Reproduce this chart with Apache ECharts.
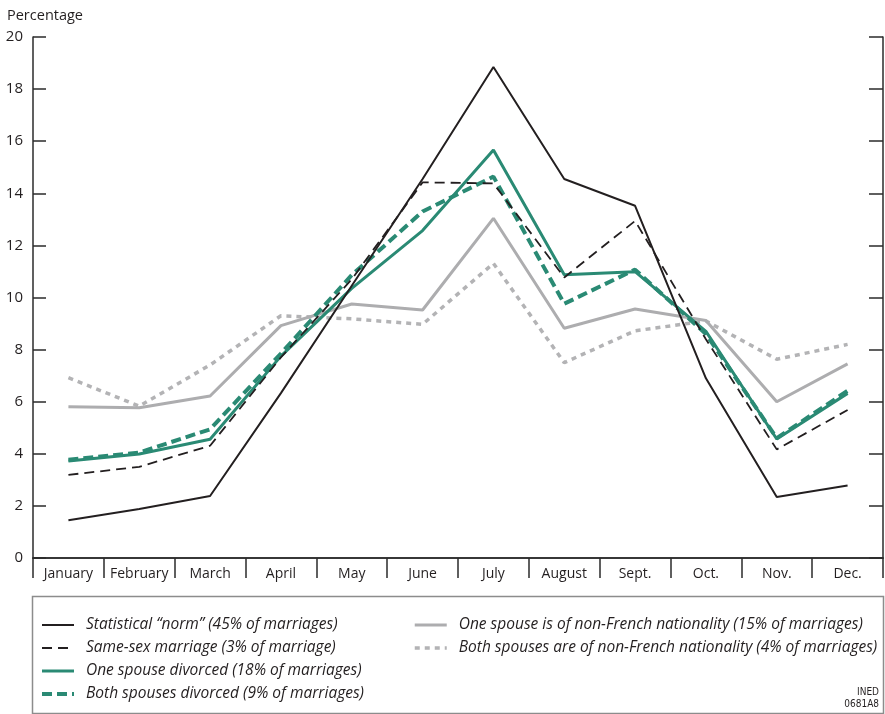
<!DOCTYPE html>
<html><head><meta charset="utf-8">
<script src="https://cdn.jsdelivr.net/npm/echarts@6/dist/echarts.min.js"></script>
<style>html,body{margin:0;padding:0;background:#fff}#c{width:885px;height:714px}</style>
</head><body><div id="c"></div>
<script>
var months = ['January','February','March','April','May','June','July','August','Sept.','Oct.','Nov.','Dec.'];
var yTicks = [0, 20, 2];
var normVals = [1.45, 1.88, 2.38, 6.33, 10.45, 14.55, 18.85, 14.55, 13.52, 6.9, 2.34, 2.78];
var sameSexVals = [3.19, 3.5, 4.31, 7.7, 10.7, 14.42, 14.38, 10.77, 12.94, 8.4, 4.17, 5.68];
var oneDivVals = [3.72, 3.99, 4.56, 7.75, 10.35, 12.57, 15.66, 10.87, 10.99, 8.7, 4.57, 6.32];
var bothDivVals = [3.77, 4.05, 4.94, 7.85, 10.86, 13.3, 14.64, 9.76, 11.07, 8.6, 4.6, 6.42];
var oneNFVals = [5.81, 5.77, 6.22, 8.92, 9.75, 9.52, 13.04, 8.82, 9.56, 9.12, 6.0, 7.45];
var bothNFVals = [6.92, 5.83, 7.41, 9.3, 9.18, 8.97, 11.31, 7.5, 8.72, 9.1, 7.63, 8.2];
var names = ['Statistical \u201cnorm\u201d (45% of marriages)','Same-sex marriage (3% of marriage)','One spouse divorced (18% of marriages)','Both spouses divorced (9% of marriages)','One spouse is of non-French nationality (15% of marriages)','Both spouses are of non-French nationality (4% of marriages)'];

var FONT = '"Open Sans", sans-serif';
var AX = '#2b2b2b';
var TEAL = '#2a8a74';
var styles = [
  {color:'#231f20', width:2, type:'solid'},
  {color:'#231f20', width:1.8, type:[10,6]},
  {color:TEAL, width:3, type:'solid'},
  {color:TEAL, width:4, type:[10,5]},
  {color:'#adadaf', width:3, type:'solid'},
  {color:'#b3b3b5', width:3.5, type:[5,5]}
];
var chart = echarts.init(document.getElementById('c'), null, {renderer:'canvas'});
function ser(i, data, z){
  var s = styles[i];
  return {name:names[i], type:'line', data:data, symbol:'none', showSymbol:false, z:z,
    lineStyle:{color:s.color, width:s.width, type:s.type}, itemStyle:{color:s.color}, emphasis:{disabled:true}};
}
function legData(i){
  var s = styles[i];
  return {name:names[i], lineStyle:{color:s.color, width:s.width, type:s.type}, itemStyle:{opacity:0, borderWidth:0}};
}
var legTxt = {fontFamily:FONT, fontStyle:'italic', fontSize:15.5, color:'#231f20', lineHeight:16, padding:[0,0,0,7]};
var legCommon = {orient:'vertical', top:617, height:96, padding:0, itemWidth:32, itemHeight:14, itemGap:7,
   textStyle:legTxt, selectedMode:false, itemStyle:{opacity:0, borderWidth:0}};
chart.setOption({
  animation:false,
  title:{text:'Percentage', left:2, top:3, textStyle:{fontFamily:FONT, fontWeight:'normal', fontSize:14.5, color:'#231f20'}},
  grid:{left:33, right:2, top:37, bottom:156, containLabel:false},
  xAxis:[{type:'category', data:months, boundaryGap:true, position:'bottom',
     axisLine:{lineStyle:{color:AX, width:1.5}},
     axisTick:{show:true, interval:0, alignWithLabel:false, length:20, lineStyle:{color:AX, width:1.5}},
     axisLabel:{interval:0, margin:9, fontFamily:FONT, fontSize:14, color:'#231f20'}, splitLine:{show:false}},
    {type:'category', data:months, boundaryGap:true, position:'top',
     axisLine:{lineStyle:{color:AX, width:1.5}},
     axisTick:{show:true, interval:0, inside:true, length:12, lineStyle:{color:AX, width:1.5}},
     axisLabel:{show:false}, splitLine:{show:false}}],
  yAxis:[{type:'value', min:yTicks[0], max:yTicks[1], interval:yTicks[2], position:'left',
     axisLine:{show:true, lineStyle:{color:AX, width:1.5}},
     axisTick:{show:true, inside:true, length:13, lineStyle:{color:AX, width:1.5}},
     axisLabel:{margin:10, fontFamily:FONT, fontSize:15, color:'#231f20'}, splitLine:{show:false}},
    {type:'value', min:yTicks[0], max:yTicks[1], interval:yTicks[2], position:'right',
     axisLine:{show:true, lineStyle:{color:AX, width:1.5}},
     axisTick:{show:true, inside:true, length:14, lineStyle:{color:AX, width:1.5}},
     axisLabel:{show:false}, splitLine:{show:false}}],
  legend:[Object.assign({left:40, data:[0,1,2,3].map(legData)}, legCommon),
    Object.assign({left:413, data:[4,5].map(legData)}, legCommon)],
  graphic:[
    {type:'rect', shape:{x:32.5, y:596.5, width:851, height:117}, style:{fill:'none', stroke:'#8c8c8c', lineWidth:1.5}, silent:true},
    {type:'text', right:6, top:686, style:{text:'INED\n0681A8', fontFamily:'"Liberation Sans Narrow", "DejaVu Sans Condensed", sans-serif', fontSize:10, lineHeight:12, textAlign:'right', fill:'#231f20'}}
  ],
  series:[
    ser(5, bothNFVals, 1),
    ser(4, oneNFVals, 2),
    ser(3, bothDivVals, 3),
    ser(2, oneDivVals, 4),
    ser(1, sameSexVals, 5),
    ser(0, normVals, 6)
  ]
});
</script></body></html>
